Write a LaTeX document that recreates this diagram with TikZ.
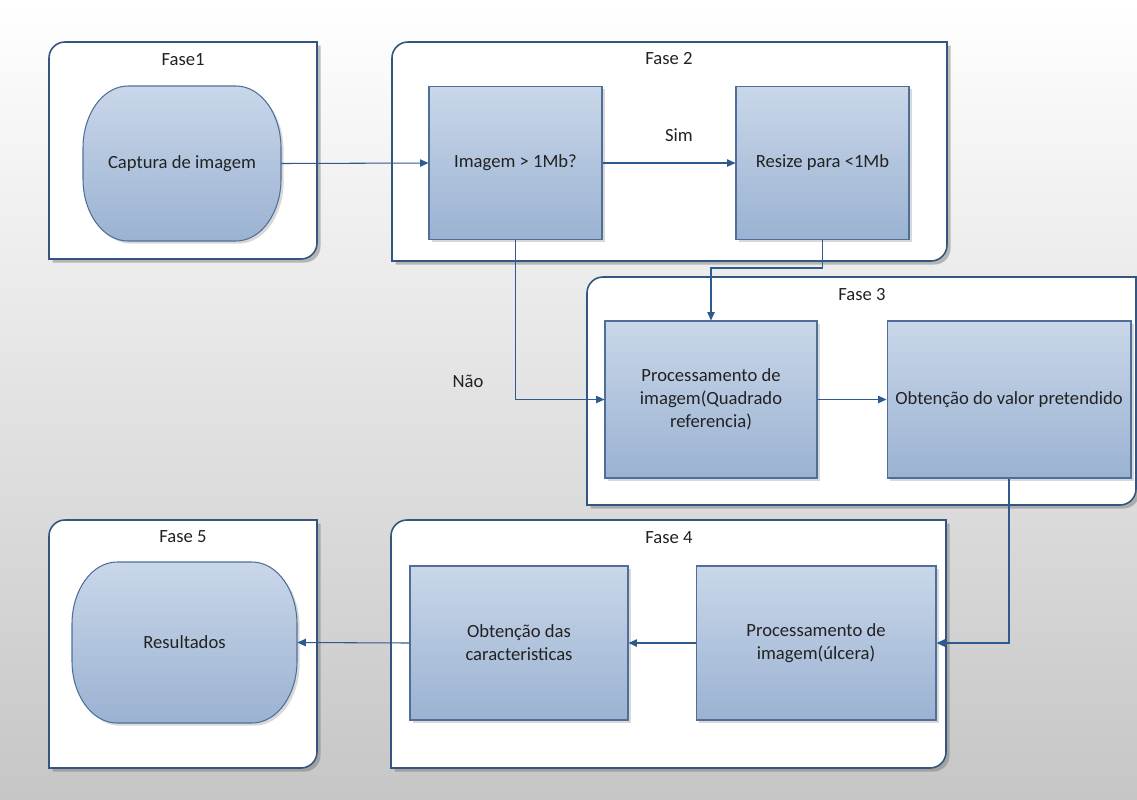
\documentclass[tikz,border=0pt]{standalone}
\usepackage{fontspec}
\setmainfont{Carlito}
\usepackage{tikz}
\usetikzlibrary{arrows.meta, positioning, calc, shadows}
\definecolor{BoxTop}{HTML}{C9D7E9}
\definecolor{BoxBottom}{HTML}{9BB2D2}
\definecolor{BoxLine}{HTML}{4F6F99}
\definecolor{FrameLine}{HTML}{34557F}
\definecolor{FlowBlue}{HTML}{2D5B8E}
\definecolor{BgGray}{HTML}{C6C6C6}
\definecolor{TextGray}{HTML}{222222}
\tikzset{
    % Node styles
    stepbox/.style={
        rectangle,
        draw=BoxLine,
        line width=0.6pt,
        top color=BoxTop,
        bottom color=BoxBottom,
        inner sep=0pt,
        align=center,
        text=TextGray,
        font=\fontsize{10.6}{13}\selectfont,
        drop shadow={shadow xshift=1.5pt, shadow yshift=-1.5pt, opacity=0.3}
    },
    termshape/.style={
        draw=BoxLine,
        line width=0.6pt,
        top color=BoxTop,
        bottom color=BoxBottom,
        drop shadow={shadow xshift=1.5pt, shadow yshift=-1.5pt, opacity=0.3}
    },
    termtext/.style={
        rectangle,
        draw=none,
        inner sep=0pt,
        text=TextGray,
        font=\fontsize{10.6}{13}\selectfont
    },
    % Phase frames
    phaseframe/.style={
        draw=FrameLine,
        line width=0.9pt,
        fill=white,
        drop shadow={shadow xshift=2pt, shadow yshift=-2pt, opacity=0.45, fill=black!55}
    },
    phaselabel/.style={
        text=TextGray,
        font=\fontsize{10.6}{13}\selectfont
    },
    % Arrow styles
    flow/.style={
        -{Triangle[length=4.8pt, width=4.2pt]},
        draw=FlowBlue,
        line width=0.6pt
    },
    branchlabel/.style={
        text=TextGray,
        font=\fontsize{10.6}{13}\selectfont
    }
}

\begin{document}
\begin{tikzpicture}[x=0.02cm, y=-0.02cm]
    \useasboundingbox (0,0) rectangle (1137,799);
    % Background
    \fill[top color=white, bottom color=BgGray] (0,0) rectangle (1137,799);

    % Phase frames
    \draw[phaseframe] (49,259) -- (49,58) arc[start angle=180, end angle=270, radius=16]
        -- (317,42) -- (317,243) arc[start angle=0, end angle=90, radius=16] -- cycle;
    \draw[phaseframe] (392,261) -- (392,58) arc[start angle=180, end angle=270, radius=16]
        -- (947,42) -- (947,245) arc[start angle=0, end angle=90, radius=16] -- cycle;
    \draw[phaseframe] (587,505) -- (587,293) arc[start angle=180, end angle=270, radius=16]
        -- (1136,277) -- (1136,489) arc[start angle=0, end angle=90, radius=16] -- cycle;
    \draw[phaseframe] (391,768) -- (391,536) arc[start angle=180, end angle=270, radius=16]
        -- (946,520) -- (946,752) arc[start angle=0, end angle=90, radius=16] -- cycle;
    \draw[phaseframe] (49,768) -- (49,536) arc[start angle=180, end angle=270, radius=16]
        -- (317,520) -- (317,752) arc[start angle=0, end angle=90, radius=16] -- cycle;

    \node[phaselabel] (f1) at (183,60) {Fase1};
    \node[phaselabel] (f2) at (669,59) {Fase 2};
    \node[phaselabel] (f3) at (862,295) {Fase 3};
    \node[phaselabel] (f4) at (669,538) {Fase 4};
    \node[phaselabel] (f5) at (183,537) {Fase 5};

    % Start and end shapes
    \draw[termshape] (128,86) -- (236,86) arc[start angle=270, end angle=360, x radius=45, y radius=62]
        -- (281,179) arc[start angle=0, end angle=90, x radius=45, y radius=62]
        -- (128,241) arc[start angle=90, end angle=180, x radius=45, y radius=62]
        -- (83,148) arc[start angle=180, end angle=270, x radius=45, y radius=62] -- cycle;
    \draw[termshape] (117,562) -- (252,562) arc[start angle=270, end angle=360, x radius=45, y radius=62]
        -- (297,661) arc[start angle=0, end angle=90, x radius=45, y radius=62]
        -- (117,723) arc[start angle=90, end angle=180, x radius=45, y radius=62]
        -- (72,624) arc[start angle=180, end angle=270, x radius=45, y radius=62] -- cycle;
    \node[termtext, minimum width=3.96cm, minimum height=3.1cm] (cap) at (182,163.5) {Captura de imagem};
    \node[termtext, minimum width=4.5cm, minimum height=3.22cm] (res) at (184.5,642.5) {Resultados};

    % Process boxes
    \node[stepbox, minimum width=3.46cm, minimum height=3.06cm] (img) at (515.5,163) {Imagem > 1Mb?};
    \node[stepbox, minimum width=3.46cm, minimum height=3.06cm] (rsz) at (822.5,163) {Resize para <1Mb};
    \node[stepbox, minimum width=4.24cm, minimum height=3.14cm] (prq) at (711,399.5)
        {Processamento de\\imagem(Quadrado\\referencia)};
    \node[stepbox, minimum width=4.88cm, minimum height=3.14cm] (obv) at (1009,399.5)
        {Obtenção do valor pretendido};
    \node[stepbox, minimum width=4.8cm, minimum height=3.08cm] (pul) at (816,643)
        {Processamento de\\imagem(úlcera)};
    \node[stepbox, minimum width=4.36cm, minimum height=3.08cm] (obc) at (519,643)
        {Obtenção das\\caracteristicas};

    % Branch labels
    \node[branchlabel] (sim) at (679,135) {Sim};
    \node[branchlabel] (nao) at (468,381) {Não};

    % Connectors
    \coordinate (turn) at (0,268);
    \draw[flow] (cap.east) -- (img.west);
    \draw[flow] (img.east) -- (rsz.west);
    \draw[flow] (rsz.south) -- (rsz.south |- turn) -| (prq.north);
    \draw[flow] (img.south) |- (prq.west);
    \draw[flow] (prq.east) -- (obv.west);
    \draw[flow] (obv.south) |- (pul.east);
    \draw[flow] (pul.west) -- (obc.east);
    \draw[flow] (obc.west) -- (res.east);
\end{tikzpicture}
\end{document}
